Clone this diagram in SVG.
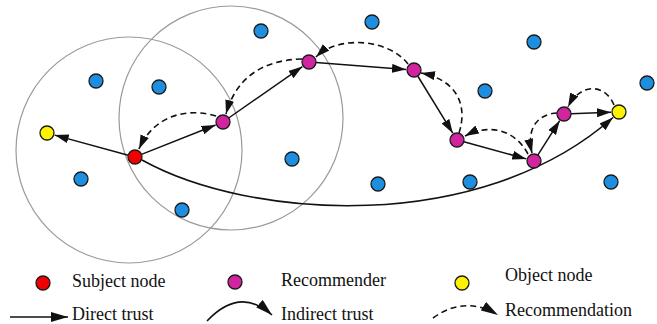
<svg xmlns="http://www.w3.org/2000/svg" width="657" height="324" viewBox="0 0 657 324">
<defs>
<marker id="ah" markerUnits="userSpaceOnUse" markerWidth="15" markerHeight="10" refX="14" refY="4.5" orient="auto"><path d="M0,0 L14,4.5 L0,9 z" fill="#111"/></marker>
<marker id="ahL" markerUnits="userSpaceOnUse" markerWidth="18" markerHeight="11" refX="17" refY="5" orient="auto"><path d="M0,0 L17,5 L0,10 z" fill="#111"/></marker>
</defs>
<style>
.range{fill:none;stroke:#9a9a9a;stroke-width:1.2}
.n{stroke:#1a1a1a;stroke-width:1.3}
.blue{fill:#1e8fe0}
.red{fill:#f00000}
.mag{fill:#d0259f}
.yel{fill:#fff200}
.dt{fill:none;stroke:#111;stroke-width:1.5;marker-end:url(#ah)}
.it{fill:none;stroke:#111;stroke-width:1.6;marker-end:url(#ah)}
.rc{fill:none;stroke:#111;stroke-width:1.6;stroke-dasharray:6 4;marker-end:url(#ah)}
.lbl{font-family:"Liberation Serif","Times New Roman",serif;font-size:18px;fill:#111}
</style>
<rect width="657" height="324" fill="#fff"/>
<g id="ranges">
<circle class="range" cx="129" cy="150" r="113"/>
<circle class="range" cx="231" cy="118" r="112"/>
</g>
<g id="connectors">
<line class="dt" x1="128.2" y1="155.2" x2="54.7" y2="135.1"/>
<line class="dt" x1="141.5" y1="154.4" x2="215.6" y2="125"/>
<line class="dt" x1="228.7" y1="118" x2="302.4" y2="66.6"/>
<line class="dt" x1="316" y1="62.5" x2="406" y2="69.4"/>
<line class="dt" x1="417.7" y1="76" x2="452.8" y2="133.2"/>
<line class="dt" x1="463.8" y1="141.8" x2="526.3" y2="158.9"/>
<line class="dt" x1="537.8" y1="155.1" x2="559.7" y2="120.7"/>
<line class="dt" x1="571" y1="113.7" x2="611" y2="112.3"/>
<path class="it" d="M142,160 C250,220 480,235 613,117.5"/>
<path class="rc" d="M216,116 C190,108 155,113 139,149"/>
<path class="rc" d="M302,59 C262,60 236,78 226,114"/>
<path class="rc" d="M408,64 C390,40 340,34 316,57"/>
<path class="rc" d="M459,133 C468,105 457,80 421,73"/>
<path class="rc" d="M528,154 C515,130 490,123 465,136"/>
<path class="rc" d="M557,113 C538,114 526,128 532,153"/>
<path class="rc" d="M614,105 C605,83 580,83 568,107"/>
</g>
<g id="others">
<circle class="n blue" cx="96" cy="81" r="7"/>
<circle class="n blue" cx="159" cy="87" r="7"/>
<circle class="n blue" cx="261" cy="31" r="7"/>
<circle class="n blue" cx="292" cy="159" r="7"/>
<circle class="n blue" cx="81" cy="179" r="7"/>
<circle class="n blue" cx="182" cy="210" r="7"/>
<circle class="n blue" cx="372" cy="22" r="7"/>
<circle class="n blue" cx="534" cy="42" r="7"/>
<circle class="n blue" cx="485" cy="91" r="7"/>
<circle class="n blue" cx="647" cy="83" r="7"/>
<circle class="n blue" cx="378" cy="184" r="7"/>
<circle class="n blue" cx="470" cy="182" r="7"/>
<circle class="n blue" cx="611" cy="182" r="7"/>
</g>
<g id="subject"><circle class="n red" cx="135" cy="157" r="7"/></g>
<g id="objectL"><circle class="n yel" cx="47" cy="133" r="7"/></g>
<g id="rec1"><circle class="n mag" cx="223" cy="122" r="7"/></g>
<g id="rec2"><circle class="n mag" cx="309" cy="62" r="7"/></g>
<g id="rec3"><circle class="n mag" cx="414" cy="70" r="7"/></g>
<g id="rec4"><circle class="n mag" cx="457" cy="140" r="7"/></g>
<g id="rec5"><circle class="n mag" cx="534" cy="161" r="7"/></g>
<g id="rec6"><circle class="n mag" cx="564" cy="114" r="7"/></g>
<g id="objectR"><circle class="n yel" cx="619" cy="112" r="7"/></g>
<g id="legend">
<circle class="n red" cx="43" cy="283" r="7"/>
<text class="lbl" x="72" y="287">Subject node</text>
<circle class="n mag" cx="235" cy="282" r="7"/>
<text class="lbl" x="281" y="286">Recommender</text>
<circle class="n yel" cx="462" cy="283" r="7"/>
<text class="lbl" x="505" y="281">Object node</text>
<line x1="10" y1="317" x2="68" y2="317" stroke="#111" stroke-width="1.6" marker-end="url(#ahL)"/>
<text class="lbl" x="72" y="320">Direct trust</text>
<path d="M207,321 Q240,286 272,315" fill="none" stroke="#111" stroke-width="1.6" marker-end="url(#ahL)"/>
<text class="lbl" x="281" y="320">Indirect trust</text>
<path d="M433,318 Q465,295 498,315" fill="none" stroke="#111" stroke-width="1.6" stroke-dasharray="6 4" marker-end="url(#ahL)"/>
<text class="lbl" x="505" y="316">Recommendation</text>
</g>
</svg>
